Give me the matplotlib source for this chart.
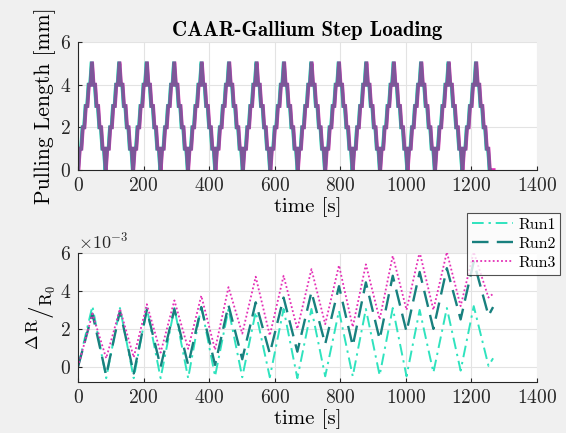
import numpy as np
import matplotlib
matplotlib.use("Agg")
import matplotlib.pyplot as plt
from matplotlib.ticker import ScalarFormatter

plt.rcParams["font.family"] = "cmr10"
plt.rcParams["mathtext.fontset"] = "cm"
plt.rcParams["axes.formatter.use_mathtext"] = True
plt.rcParams["axes.unicode_minus"] = False

run_names = ["Run1", "Run2", "Run3"]
run_colors = ["#2FE3BE", "#18807E", "#E42FB6"]

# one load cycle of the pulling stage: 1 mm ramps with holds, up to 5 mm and back
cycle_t = [0, 4.3, 9.2, 13.5, 18.4, 22.7, 27.6, 31.9, 36.8, 41.1, 41.9,
           46.2, 51.1, 55.4, 60.3, 64.6, 69.5, 73.8, 78.7, 83.0]
cycle_mm = [0, 1, 1, 2, 2, 3, 3, 4, 4, 5, 5, 4, 4, 3, 3, 2, 2, 1, 1, 0]
cycle_starts = [0, 83.7, 167.4, 251.1, 334.8, 418.5, 502.2, 585.9, 669.6,
                753.3, 837.0, 920.7, 1004.4, 1088.1, 1171.8]
run_delay = [0.0, 0.6, 1.6]   # s, start lag of each run
run_end = [1256, 1256, 1268]  # s, end of logging

# resistance change, vertices at peaks/troughs of each cycle (units of 1e-3)
dr_t = [0, 44, 86, 128, 170, 210, 252, 294, 336, 376, 418, 459, 501, 542,
        585, 627, 669, 712, 754, 796, 838, 878, 920, 960, 1002, 1042, 1084,
        1125, 1167, 1207, 1252, 1266]
dr_run1 = [0, 3.2, -0.6, 3.1, -0.6, 3.1, -0.6, 3.1, -0.6, 3.2, -0.5, 3.05,
           -0.55, 2.9, -0.55, 3.05, -0.6, 3.05, -0.5, 2.95, -0.5, 3.05, -0.45,
           3.1, -0.5, 3.0, -0.3, 3.1, -0.2, 3.2, 0.05, 0.45]
dr_run2 = [0, 2.8, -0.45, 2.95, -0.35, 3.0, 0.0, 3.05, 0.1, 3.15, 0.1, 3.25,
           0.4, 3.4, 0.7, 3.65, 0.8, 3.95, 1.2, 4.25, 1.1, 4.45, 1.45, 4.8,
           1.85, 5.0, 2.0, 5.2, 2.5, 5.55, 2.7, 3.15]
dr_run3 = [0, 2.8, 0.45, 3.05, 0.5, 3.3, 0.75, 3.5, 0.95, 3.75, 0.9, 4.2,
           1.75, 4.75, 1.65, 4.8, 2.0, 5.15, 2.25, 5.35, 2.1, 5.4, 2.5, 5.85,
           3.0, 6.05, 3.0, 6.05, 3.2, 6.05, 3.65, 3.85]
dr_runs = [dr_run1, dr_run2, dr_run3]
dr_styles = [(0, (6, 2.5, 1.2, 2.5)), (0, (7, 3.5)), (0, (1, 1.3))]
dr_widths = [1.4, 1.7, 1.3]


def pull_profile(delay, t_end):
    t = []
    mm = []
    for start in cycle_starts:
        t.extend([start + delay + c for c in cycle_t])
        mm.extend(cycle_mm)
    t.append(t_end)
    mm.append(0)
    return np.array(t), np.array(mm)


def style_axes(ax):
    ax.set_facecolor("white")
    for side in ["top", "right"]:
        ax.spines[side].set_visible(False)
    for side in ["left", "bottom"]:
        ax.spines[side].set_color("#262626")
        ax.spines[side].set_linewidth(0.8)
    ax.grid(True, color="#e3e3e3", linewidth=0.8)
    ax.set_axisbelow(True)
    ax.tick_params(direction="in", length=3, width=0.8, colors="#262626",
                   labelsize=14, pad=5)
    ax.set_xlim(0, 1400)
    ax.set_xticks(np.arange(0, 1401, 200))


fig = plt.figure(figsize=(5.66, 4.33), dpi=100, facecolor="#f0f0f0")
ax1 = fig.add_axes([0.1378, 0.6074, 0.811, 0.2956])
ax2 = fig.add_axes([0.1378, 0.1178, 0.811, 0.2979])

# cyan and magenta underneath, teal blended over them
for i, alpha in [(0, 1.0), (2, 1.0), (1, 0.5)]:
    t, mm = pull_profile(run_delay[i], run_end[i])
    ax1.plot(t, mm, color=run_colors[i], lw=2.6, alpha=alpha,
             solid_joinstyle="miter")

style_axes(ax1)
ax1.set_ylim(0, 6)
ax1.set_yticks([0, 2, 4, 6])
ax1.set_xlabel("time [s]", fontsize=15, labelpad=2)
ax1.set_ylabel("Pulling Length [mm]", fontsize=15.5, labelpad=3)
ax1.set_title("CAAR-Gallium Step Loading", fontsize=15, family="cmb10", pad=4)

for i in range(3):
    ax2.plot(dr_t, np.array(dr_runs[i]) * 1e-3, color=run_colors[i],
             linestyle=dr_styles[i], lw=dr_widths[i], label=run_names[i])

style_axes(ax2)
ax2.set_ylim(-0.8e-3, 6e-3)
ax2.set_yticks([0, 2e-3, 4e-3, 6e-3])
fmt = ScalarFormatter(useMathText=True)
fmt.set_powerlimits((-3, -3))
ax2.yaxis.set_major_formatter(fmt)
ax2.yaxis.get_offset_text().set_fontsize(13)
ax2.set_xlabel("time [s]", fontsize=15, labelpad=2)
ax2.set_ylabel(r"$^{\Delta\,\mathrm{R}}/_{\mathrm{R}_0}$", fontsize=18, labelpad=2)

leg = ax2.legend(loc="upper right", bbox_to_anchor=(0.99, 0.508),
                 bbox_transform=fig.transFigure, fontsize=11.5, frameon=True,
                 fancybox=False, handlelength=2.6, borderpad=0.3,
                 labelspacing=0.3, handletextpad=0.3, borderaxespad=0)
leg.get_frame().set_edgecolor("#262626")
leg.get_frame().set_linewidth(0.8)

fig.savefig("out.png", dpi=100, facecolor=fig.get_facecolor())
